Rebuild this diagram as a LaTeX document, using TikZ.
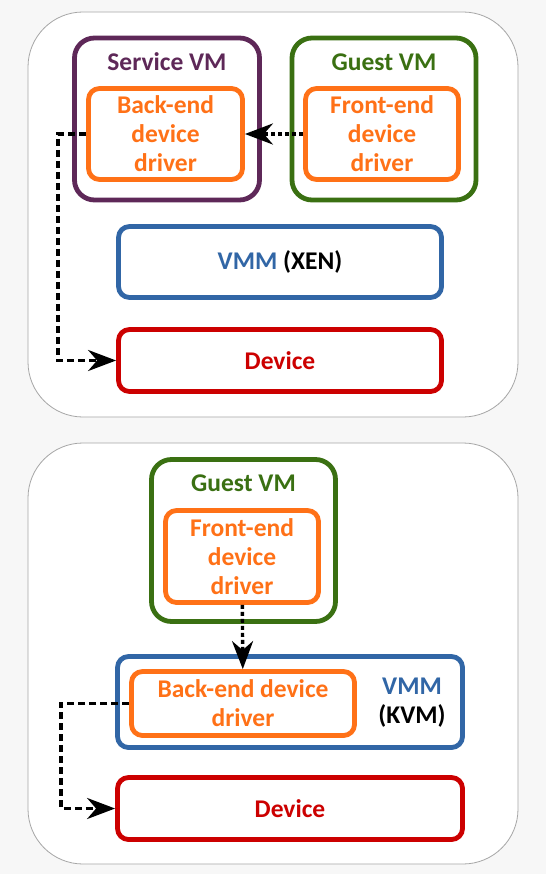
\documentclass[tikz,border=0pt]{standalone}
\usepackage{fontspec}
\setmainfont{Carlito}
\usetikzlibrary{arrows.meta}
\definecolor{bggray}{HTML}{F7F7F7}
\definecolor{vmpurple}{HTML}{5E2858}
\definecolor{vmgreen}{HTML}{3A7012}
\definecolor{drvorange}{HTML}{FF7117}
\definecolor{vmmblue}{HTML}{3166A6}
\definecolor{devred}{HTML}{CC0000}
\tikzset{
  panel/.style={draw=black!35, line width=0.8pt, fill=white, rounded corners=55pt},
  box/.style={draw, fill=white, rounded corners=11pt, line width=4.8pt, align=center, inner sep=0pt},
  vmbox/.style={box, rounded corners=20pt},
  drvbox/.style={box, draw=drvorange, text=drvorange},
  path to dev/.style={line width=3.4pt, dash pattern=on 7pt off 4pt, -{Stealth[length=28pt,width=21pt,inset=9pt]}},
  drv link/.style={line width=3.4pt, dash pattern=on 4pt off 3pt, -{Stealth[length=28pt,width=21pt,inset=9pt]}}
}

\begin{document}
\begin{tikzpicture}[x=1pt, y=-1pt, font=\fontsize{25.5}{29}\selectfont\bfseries]
\fill[bggray] (0,0) rectangle (546,874);
\draw[panel] (28,12) rectangle (518,417);
\draw[panel] (28,443) rectangle (518,864);
% XEN
\node[vmbox, draw=vmpurple, minimum width=185pt, minimum height=162pt] (svm) at (167,119) {};
\node[text=vmpurple] (svm label) at (167,62) {Service VM};
\node[drvbox, minimum width=154pt, minimum height=91pt] (back xen) at (165.5,134) {Back-end\\device\\driver};
\node[vmbox, draw=vmgreen, minimum width=184pt, minimum height=162pt] (gvm xen) at (384,119) {};
\node[text=vmgreen] (gvm xen label) at (384,62) {Guest VM};
\node[drvbox, minimum width=153pt, minimum height=91pt] (front xen) at (382,134) {Front-end\\device\\driver};
\node[box, draw=vmmblue, minimum width=323pt, minimum height=71pt] (vmm xen) at (280,262) {\textcolor{vmmblue}{VMM} (XEN)};
\node[box, draw=devred, text=devred, minimum width=323pt, minimum height=62pt] (dev xen) at (280,360.5) {Device};
\coordinate (bend xen) at (58,0);
\draw[drv link] (front xen) -- (back xen);
\draw[path to dev] (back xen.west) -- (back xen.west -| bend xen) |- (dev xen.west);
% KVM
\node[vmbox, draw=vmgreen, minimum width=184pt, minimum height=162pt] (gvm kvm) at (243.5,540.5) {};
\node[text=vmgreen] (gvm kvm label) at (243.5,483) {Guest VM};
\node[drvbox, minimum width=153pt, minimum height=92pt] (front kvm) at (242,556.5) {Front-end\\device\\driver};
\node[box, draw=vmmblue, minimum width=345pt, minimum height=91pt] (vmm kvm) at (290,702) {};
\node[align=center] (vmm kvm label) at (412,703) {\textcolor{vmmblue}{VMM}\\(KVM)};
\node[drvbox, minimum width=223pt, minimum height=64pt] (back kvm) at (243,703.5) {Back-end device\\driver};
\node[box, draw=devred, text=devred, minimum width=345pt, minimum height=62pt] (dev kvm) at (290,808.5) {Device};
\coordinate (bend kvm) at (61,0);
\draw[drv link] (front kvm) -- (back kvm);
\draw[path to dev] (back kvm.west) -- (back kvm.west -| bend kvm) |- (dev kvm.west);
\end{tikzpicture}
\end{document}
